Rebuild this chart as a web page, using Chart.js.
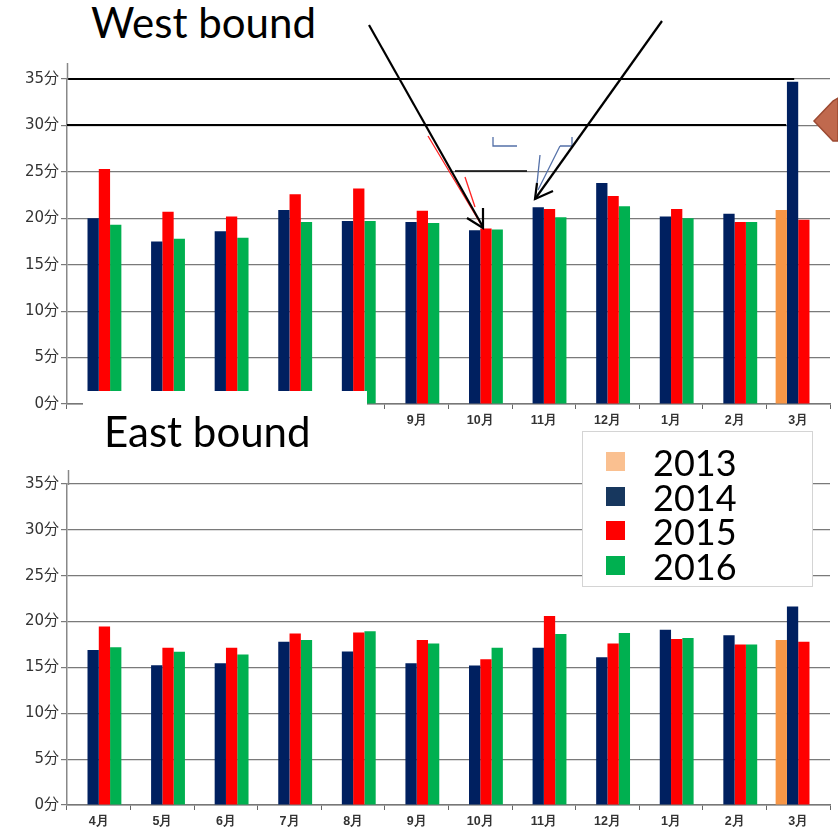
<!DOCTYPE html>
<html>
<head>
<meta charset="utf-8">
<script src="https://cdn.jsdelivr.net/npm/chart.js@4.4.0/dist/chart.umd.min.js"></script>
<style>
  body { margin: 0; background: #fff; width: 838px; height: 836px; overflow: hidden; position: relative; font-family: "Noto Sans CJK JP", "Noto Sans", sans-serif; }
  .box { position: absolute; }
  .title { position: absolute; font-family: "Lato", "DejaVu Sans", sans-serif; color: #000; white-space: nowrap; line-height: 1; }
  #legend { position: absolute; left: 582px; top: 431px; width: 231px; height: 156px; background: #fff; border: 1px solid #d4d4d4; box-sizing: border-box; }
  #legend .row { position: absolute; left: 0; height: 34px; }
  #legend .sw { position: absolute; left: 23px; top: 7px; width: 19px; height: 19px; }
  #legend .lb { position: absolute; left: 70px; top: -5px; font-family: "Lato", "DejaVu Sans", sans-serif; font-size: 36px; color: #000; }
</style>
</head>
<body>
<div class="box" style="left:0;top:60px;width:838px;height:370px;"><canvas id="west"></canvas></div>
<div class="box" style="left:0;top:460px;width:838px;height:376px;"><canvas id="east"></canvas></div>
<div class="box" style="left:83px;top:391px;width:284px;height:40px;background:#fff;"></div>
<div class="title" style="left:91px;top:1px;font-size:42px;">West bound</div>
<div class="title" style="left:104px;top:410px;font-size:42px;">East bound</div>
<div id="legend"></div>
<svg class="box" style="left:0;top:0;" width="838" height="836">
  <g stroke="#888" stroke-width="1.5">
    <line x1="67.5" y1="63" x2="67.5" y2="80"/>
    <line x1="68.5" y1="470" x2="68.5" y2="485"/>
  </g>
  <g stroke="#ff2020" stroke-width="1.3" fill="none">
    <line x1="428" y1="136" x2="482" y2="226"/>
    <line x1="465" y1="177" x2="475" y2="207"/>
  </g>
  <g stroke="#5470a8" stroke-width="1.3" fill="none">
    <polyline points="493,137 493,146 517,146"/>
    <polyline points="560,146 572,146 572,137"/>
    <line x1="540" y1="155" x2="536" y2="193"/>
    <line x1="560" y1="146" x2="538" y2="190"/>
  </g>
  <line x1="455" y1="171" x2="527" y2="171" stroke="#000" stroke-width="1.5"/>
  <g stroke="#000" stroke-width="2.2" fill="none">
    <line x1="369" y1="25" x2="483" y2="227"/>
    <polyline points="467,218 483,228 483,208"/>
    <line x1="662" y1="21" x2="535" y2="199"/>
    <polyline points="553,191 535,199 537,183"/>
  </g>
  <polygon points="814,121 833,101 838,98 838,141 833,141" fill="#c0694e" stroke="#9c4a32" stroke-width="1.5"/>
</svg>
<script>
const months = ['4月', '5月', '6月', '7月', '8月', '9月', '10月', '11月', '12月', '1月', '2月', '3月'];
const years = ['2013', '2014', '2015', '2016'];
const barColors = ['#f79646', '#002060', '#ff0000', '#00b050'];
const legendColors = ['#fac090', '#17375e', '#ff0000', '#00b050'];
const yTicks = [0, 5, 10, 15, 20, 25, 30, 35];

// west bound (minutes)
const west2013 = [null, null, null, null, null, null, null, null, null, null, null, 20.9];
const west2014 = [20.0, 17.5, 18.6, 20.9, 19.7, 19.6, 18.7, 21.2, 23.8, 20.2, 20.5, 34.7];
const west2015 = [25.3, 20.7, 20.2, 22.6, 23.2, 20.8, 18.9, 21.0, 22.4, 21.0, 19.6, 19.85];
const west2016 = [19.3, 17.8, 17.9, 19.6, 19.7, 19.5, 18.8, 20.1, 21.3, 20.0, 19.6, null];

// east bound (minutes)
const east2013 = [null, null, null, null, null, null, null, null, null, null, null, 18.0];
const east2014 = [16.9, 15.25, 15.45, 17.8, 16.75, 15.45, 15.2, 17.15, 16.1, 19.1, 18.5, 21.65];
const east2015 = [19.45, 17.15, 17.15, 18.7, 18.8, 18.0, 15.9, 20.6, 17.6, 18.1, 17.5, 17.8];
const east2016 = [17.2, 16.7, 16.4, 18.0, 18.95, 17.6, 17.15, 18.65, 18.75, 18.2, 17.5, null];

// thick black guide lines drawn over some gridlines (they stop short near 3月)
const guideLines = {
    id: 'guideLines',
    afterDraw: function (chart, args, opts) {
        if (!opts.lines) return;
        const ctx = chart.ctx;
        const y = chart.scales.y;
        const x = chart.scales.x;
        ctx.save();
        ctx.strokeStyle = '#000';
        ctx.lineWidth = 2;
        opts.lines.forEach(function (l) {
            const py = Math.round(y.getPixelForValue(l.value));
            ctx.beginPath();
            ctx.moveTo(chart.chartArea.left, py);
            ctx.lineTo(x.getPixelForValue(11) + l.shift, py);
            ctx.stroke();
        });
        ctx.restore();
    }
};

function makeChart(id, series, pad, xHeight, lines) {
    return new Chart(document.getElementById(id), {
        type: 'bar',
        data: {
            labels: months,
            datasets: series.map(function (s, i) {
                return {
                    label: years[i],
                    data: s,
                    backgroundColor: barColors[i],
                    borderWidth: 0,
                    barPercentage: 1.0,
                    categoryPercentage: 0.71
                };
            })
        },
        plugins: [guideLines],
        options: {
            responsive: true,
            maintainAspectRatio: false,
            animation: false,
            layout: { padding: { top: pad, right: 8, left: 0, bottom: 0 } },
            plugins: {
                legend: { display: false },
                tooltip: { enabled: false },
                guideLines: { lines: lines }
            },
            scales: {
                x: {
                    afterFit: function (scale) { scale.height = xHeight; },
                    grid: { drawOnChartArea: false, drawTicks: true, tickLength: 5, color: '#666' },
                    border: { color: '#777', width: 1.5 },
                    ticks: { color: '#333', font: { size: 12.5, weight: 'bold' }, padding: 4, maxRotation: 0 }
                },
                y: {
                    min: 0,
                    max: 35,
                    afterFit: function (scale) { scale.width = 67; },
                    afterBuildTicks: function (scale) { scale.ticks = yTicks.map(function (v) { return { value: v }; }); },
                    grid: { tickLength: 6, color: '#7a7a7a', lineWidth: 1.2 },
                    border: { color: '#888', width: 1.5 },
                    ticks: {
                        color: '#333',
                        font: { family: '"DejaVu Sans", "Noto Sans CJK JP", sans-serif', size: 15 },
                        padding: 2,
                        callback: function (v) { return v + '分'; }
                    }
                }
            }
        }
    });
}

makeChart('west', [west2013, west2014, west2015, west2016], 19, 26, [{ value: 35, shift: -4 }, { value: 30, shift: -12 }]);
makeChart('east', [east2013, east2014, east2015, east2016], 24, 31, []);

// legend box
const legend = document.getElementById('legend');
years.forEach(function (y, i) {
    const row = document.createElement('div');
    row.className = 'row';
    row.style.top = (13 + i * 34.5) + 'px';
    row.innerHTML = '<div class="sw" style="background:' + legendColors[i] + '"></div><div class="lb">' + y + '</div>';
    legend.appendChild(row);
});
</script>
</body>
</html>
